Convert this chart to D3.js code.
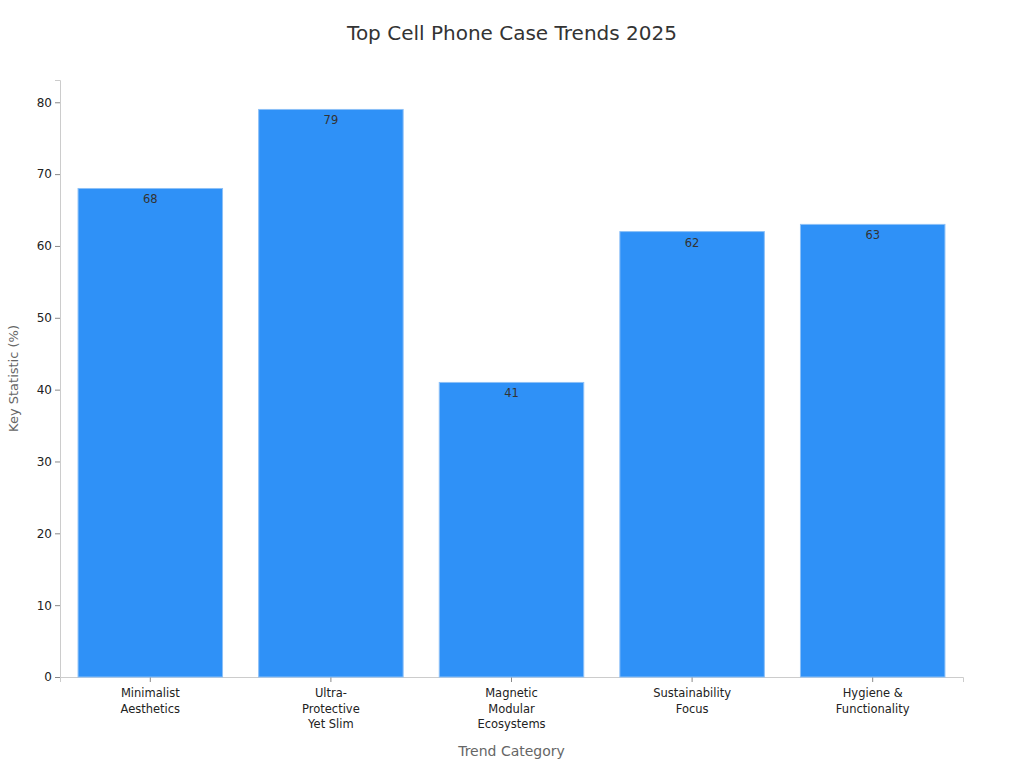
<!DOCTYPE html>
<html><head><meta charset="utf-8">
<script src="https://cdn.jsdelivr.net/npm/d3@7"></script>
<style>body{margin:0;background:#fff;font-family:"DejaVu Sans",sans-serif;}</style>
</head><body><div id="chart"></div>
<script>
// Chart data
const categories = ["Minimalist\nAesthetics", "Ultra-\nProtective\nYet Slim", "Magnetic\nModular\nEcosystems", "Sustainability\nFocus", "Hygiene &\nFunctionality"];
const values = [68, 79, 41, 62, 63];
const yTicks = [0, 10, 20, 30, 40, 50, 60, 70, 80];

const margin = { top: 80, right: 61, bottom: 91, left: 60 };
const width = 1024 - margin.left - margin.right;
const height = 768 - margin.top - margin.bottom;

const root = d3.select("#chart").append("svg")
    .attr("width", 1024).attr("height", 768);

root.append("text")
    .attr("x", 512).attr("y", 40)
    .attr("text-anchor", "middle")
    .attr("font-size", 20).attr("fill", "#333")
    .text("Top Cell Phone Case Trends 2025");

const svg = root.append("g").attr("transform", `translate(${margin.left},${margin.top})`);

const x = d3.scaleBand().domain(categories).range([0, width]).paddingInner(0.2).paddingOuter(0.1);
const y = d3.scaleLinear().domain([0, 83.1]).range([height, 0]);

// Axes
const xAxis = svg.append("g").attr("transform", `translate(0,${height})`)
    .call(d3.axisBottom(x).tickSize(5).tickFormat(""));
xAxis.select(".domain").attr("stroke", "#ccc");
xAxis.selectAll(".tick line").attr("stroke", "#888");

const yAxis = svg.append("g").call(d3.axisLeft(y).tickValues(yTicks).tickSize(5));
yAxis.select(".domain").attr("stroke", "#ccc");
yAxis.selectAll(".tick line").attr("stroke", "#888");
yAxis.selectAll(".tick text").attr("font-size", 12).attr("fill", "#222").attr("font-family", "DejaVu Sans");

// Multi-line category labels
categories.forEach(c => {
    const t = svg.append("text")
        .attr("x", x(c) + x.bandwidth() / 2).attr("y", height + 20)
        .attr("text-anchor", "middle").attr("font-size", 11.5).attr("fill", "#222");
    c.split("\n").forEach((line, i) => {
        t.append("tspan").attr("x", x(c) + x.bandwidth() / 2).attr("dy", i ? 15.5 : 0).text(line);
    });
});

// Bars
svg.selectAll(".bar").data(values).enter().append("rect")
    .attr("x", (d, i) => x(categories[i]))
    .attr("y", d => y(d))
    .attr("width", x.bandwidth())
    .attr("height", d => height - y(d))
    .attr("fill", "#2f91f7")
    .attr("stroke", "#8cc0f7").attr("stroke-width", 1);

svg.selectAll(".label").data(values).enter().append("text")
    .attr("x", (d, i) => x(categories[i]) + x.bandwidth() / 2)
    .attr("y", d => y(d) + 15)
    .attr("text-anchor", "middle").attr("font-size", 11.5).attr("fill", "#333")
    .text(d => d);

// Axis titles
root.append("text")
    .attr("x", margin.left + width / 2).attr("y", 756)
    .attr("text-anchor", "middle").attr("font-size", 14).attr("fill", "#666")
    .text("Trend Category");
root.append("text")
    .attr("transform", `translate(18,${margin.top + height / 2}) rotate(-90)`)
    .attr("text-anchor", "middle").attr("font-size", 13).attr("fill", "#666")
    .text("Key Statistic (%)");
</script></body></html>
